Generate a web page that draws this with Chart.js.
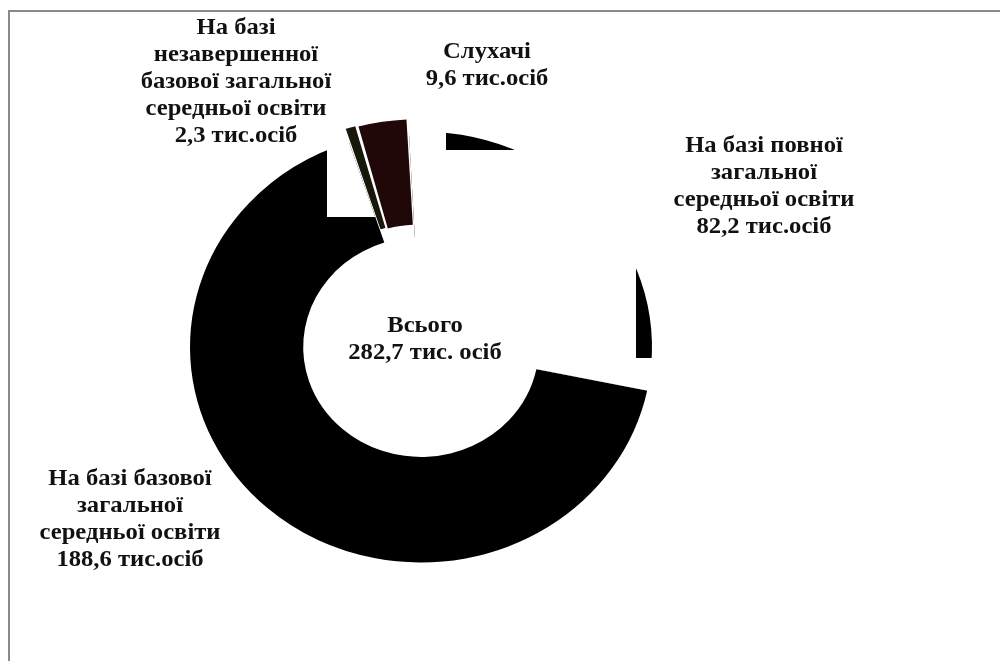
<!DOCTYPE html>
<html>
<head>
<meta charset="utf-8">
<script src="https://cdn.jsdelivr.net/npm/chart.js@4/dist/chart.umd.min.js"></script>
<style>
    body { margin: 0; background: #fff; }
    #wrap { position: relative; width: 1000px; height: 661px; }
    #frameTop { position: absolute; left: 8px; top: 10px; width: 992px; height: 2px; background: #8a8a8a; }
    #frameLeft { position: absolute; left: 8px; top: 10px; width: 2px; height: 651px; background: #8a8a8a; }
    canvas { position: absolute; left: 0; top: 0; }
</style>
</head>
<body>
<div id="wrap">
    <div id="frameTop"></div>
    <div id="frameLeft"></div>
    <canvas id="pie" width="1000" height="661"></canvas>
</div>
<script>
// students by admission basis, thousand persons
const categories = [
    "На базі повної загальної середньої освіти",
    "На базі базової загальної середньої освіти",
    "На базі незавершенної базової загальної середньої освіти",
    "Слухачі"
];
const values = [82.2, 188.6, 2.3, 9.6];
const sliceColors = ["#000000", "#000000", "#17170a", "#200808"];
const explode = [0, 0, 30, 30];

// caption lines, value line is added from values[]
const captionLines = [
    ["На базі повної", "загальної", "середньої освіти"],
    ["На базі базової", "загальної", "середньої освіти"],
    ["На базі", "незавершенної", "базової загальної", "середньої освіти"],
    ["Слухачі"]
];
const captionPos = [[764, 146], [130, 479], [236, 28], [487, 52]];
const totalTitle = "Всього";

const fmt = v => v.toFixed(1).replace(".", ",");
const total = values.reduce((s, v) => s + v, 0);

const squash = 0.933; // ring is a bit flatter than a circle

// parts of the ring that sit behind the caption boxes
const hideInside = { 1: [[327, 100, 55, 117]] };
const showOnly = { 0: [[446, 100, 89, 50], [636, 200, 60, 158]] };

function arcPath(ctx, a, grow) {
    ctx.beginPath();
    ctx.arc(a.x, a.y, a.outerRadius + grow, a.startAngle, a.endAngle);
    ctx.arc(a.x, a.y, Math.max(a.innerRadius - grow, 0), a.endAngle, a.startAngle, true);
    ctx.closePath();
}

function squashAround(ctx, x, y) {
    ctx.translate(x, y);
    ctx.scale(1, squash);
    ctx.translate(-x, -y);
}

// bold serif, slightly widened
function caption(ctx, text, x, y) {
    ctx.save();
    ctx.translate(x, y);
    ctx.scale(1.07, 1);
    ctx.fillText(text, 0, 0);
    ctx.restore();
}

const ringPlugin = {
    id: "ring",
    beforeDatasetsDraw(chart) {
        const a = chart.getDatasetMeta(0).data[0];
        chart.ctx.save();
        squashAround(chart.ctx, a.x, a.y);
    },
    afterDatasetsDraw(chart) {
        const ctx = chart.ctx;
        ctx.restore();
        const arcs = chart.getDatasetMeta(0).data;

        ctx.fillStyle = "#fff";
        for (let i in hideInside) {
            ctx.save();
            ctx.beginPath();
            hideInside[i].forEach(r => ctx.rect(r[0], r[1], r[2], r[3]));
            ctx.clip();
            squashAround(ctx, arcs[i].x, arcs[i].y);
            arcPath(ctx, arcs[i], 2);
            ctx.fill();
            ctx.restore();
        }
        for (let i in showOnly) {
            ctx.save();
            ctx.beginPath();
            ctx.rect(0, 0, chart.width, chart.height);
            showOnly[i].forEach(r => ctx.rect(r[0], r[1], r[2], r[3]));
            ctx.clip("evenodd");
            squashAround(ctx, arcs[i].x, arcs[i].y);
            arcPath(ctx, arcs[i], 2);
            ctx.fill();
            ctx.restore();
        }
    },
    afterDraw(chart) {
        const ctx = chart.ctx;
        const lh = 27;
        ctx.save();
        ctx.font = "bold 23px 'Liberation Serif', 'Times New Roman', serif";
        ctx.fillStyle = "#111";
        ctx.textAlign = "center";
        ctx.textBaseline = "middle";
        captionLines.forEach((lines, i) => {
            const all = lines.concat([fmt(values[i]) + " тис.осіб"]);
            all.forEach((t, k) => caption(ctx, t, captionPos[i][0], captionPos[i][1] + k * lh));
        });
        const c = chart.getDatasetMeta(0).data[0];
        caption(ctx, totalTitle, c.x + 4, c.y - 21);
        caption(ctx, fmt(total) + " тис. осіб", c.x + 4, c.y + 6);
        ctx.restore();
    }
};

new Chart(document.getElementById("pie"), {
    type: "doughnut",
    data: {
        labels: categories,
        datasets: [{
            data: values,
            backgroundColor: sliceColors,
            borderWidth: 0,
            offset: explode,
            radius: 231,
            clip: false
        }]
    },
    options: {
        responsive: false,
        animation: false,
        events: [],
        rotation: -3,
        cutout: "51%",
        layout: { padding: { left: 0, right: 158, top: 100, bottom: 67 } },
        plugins: {
            legend: { display: false },
            tooltip: { enabled: false }
        }
    },
    plugins: [ringPlugin]
});
</script>
</body>
</html>
